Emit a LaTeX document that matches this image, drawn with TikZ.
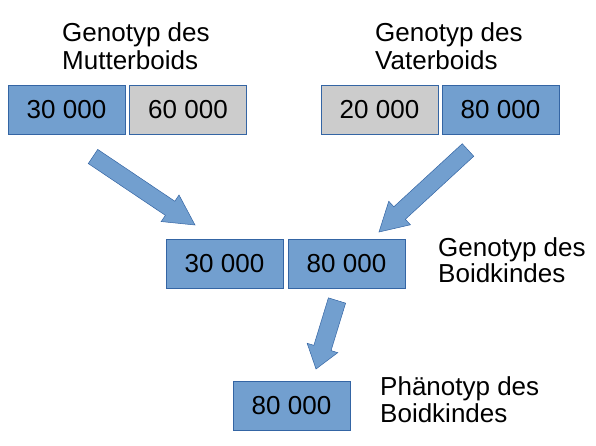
\documentclass[tikz,border=0pt]{standalone}
\usepackage{fontspec}
\setmainfont{Liberation Sans}
\usetikzlibrary{calc}
\definecolor{boxblue}{HTML}{729FCF}
\definecolor{edgeblue}{HTML}{3465A4}
\definecolor{boxgray}{HTML}{CCCCCC}
\tikzset{
  numbox/.style={draw=edgeblue, line width=0.8pt, minimum width=117pt, minimum height=49pt, inner sep=0pt, font=\fontsize{26}{30}\selectfont},
  bluebox/.style={numbox, fill=boxblue},
  graybox/.style={numbox, fill=boxgray},
  caption/.style={anchor=north west, inner sep=0pt, align=left},
  blockarrowstyle/.style={fill=boxblue, draw=edgeblue, line width=0.5pt, line join=miter},
}
% #1 tail, #2 tip, #3 shaft half width, #4 head half width, #5 head length
\newcommand\myblockarrow[5]{%
  \coordinate (ba-b) at ($(#2)!#5!(#1)$);
  \draw[blockarrowstyle]
    ($(#1)!#3!90:(#2)$) -- ($(ba-b)!#3!90:(#2)$) -- ($(ba-b)!#4!90:(#2)$)
    -- (#2) -- ($(ba-b)!#4!-90:(#2)$) -- ($(ba-b)!#3!-90:(#2)$)
    -- ($(#1)!#3!-90:(#2)$) -- cycle;
}
\begin{document}
\begin{tikzpicture}[x=1pt, y=-1pt]
\useasboundingbox (0,0) rectangle (596,446);
\node[bluebox] (m1) at (66.5,109.5) {30 000};
\node[graybox] (m2) at (188,109.5) {60 000};
\node[graybox] (v1) at (379.5,109.5) {20 000};
\node[bluebox] (v2) at (500.5,109.5) {80 000};
\node[bluebox] (k1) at (224.5,263.5) {30 000};
\node[bluebox] (k2) at (346.5,263.5) {80 000};
\node[bluebox] (p1) at (291.5,405.5) {80 000};

\node[caption, font=\fontsize{26}{28.5}\selectfont] (tm) at (62,22) {Genotyp des\\Mutterboids};
\node[caption, font=\fontsize{26}{28.5}\selectfont] (tv) at (375,22) {Genotyp des\\Vaterboids};
\node[caption, font=\fontsize{26}{26.5}\selectfont] (tk) at (438,237) {Genotyp des\\Boidkindes};
\node[caption, font=\fontsize{26}{27}\selectfont] (tp) at (380,376) {Phänotyp des\\Boidkindes};

\coordinate (a1t) at (93,156.5);
\coordinate (a1p) at (195,225);
\coordinate (a2t) at (468,150);
\coordinate (a2p) at (379,232);
\coordinate (a3t) at (337,300.5);
\coordinate (a3p) at (316,369);
\myblockarrow{a1t}{a1p}{8.5pt}{16pt}{30pt}
\myblockarrow{a2t}{a2p}{8.5pt}{16pt}{28pt}
\myblockarrow{a3t}{a3p}{9pt}{16pt}{22pt}
\end{tikzpicture}
\end{document}
